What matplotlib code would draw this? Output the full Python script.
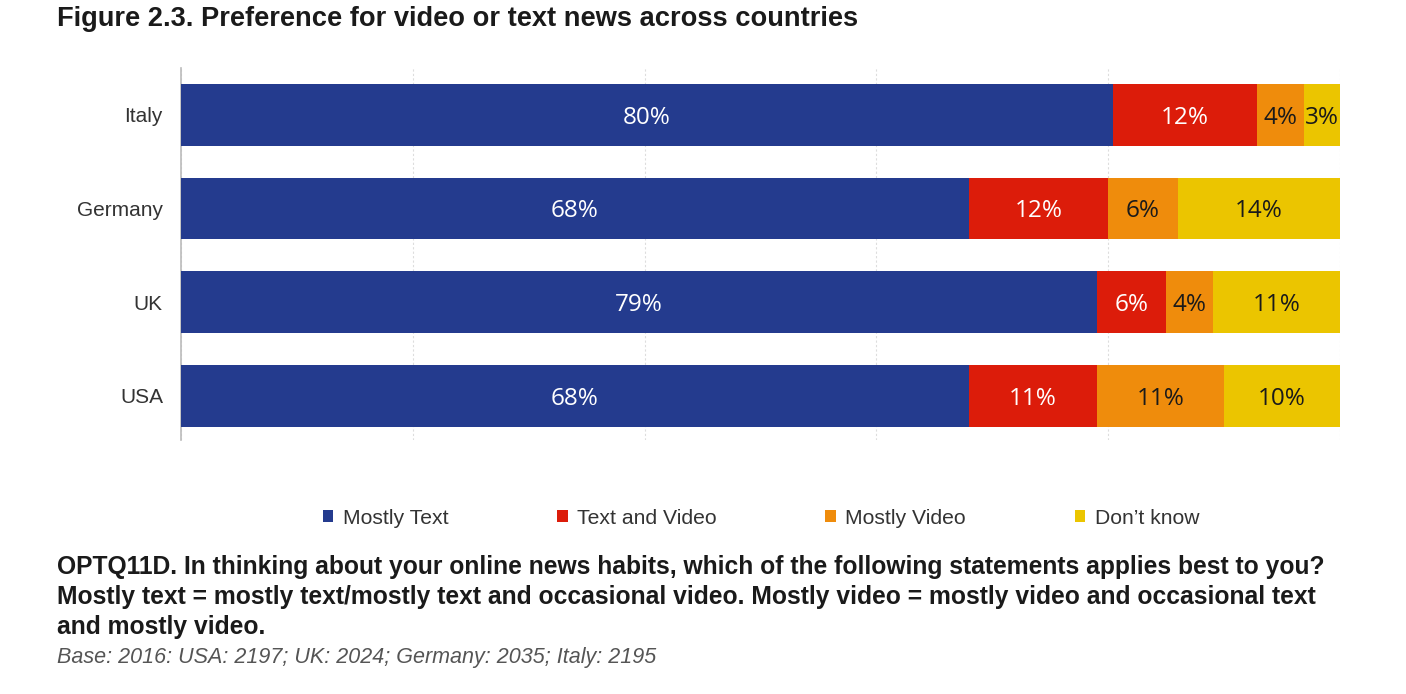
import matplotlib
matplotlib.use("Agg")
import matplotlib.pyplot as plt
from matplotlib.patches import Patch

# data (top to bottom)
countries = ["Italy", "Germany", "UK", "USA"]
series = ["Mostly Text", "Text and Video", "Mostly Video", "Don\u2019t know"]
mostly_text = [80.4, 68, 79, 68]
text_and_video = [12.4, 12, 6, 11]
mostly_video = [4.1, 6, 4, 11]
dont_know = [3.1, 14, 11, 10]

colors = ["#243b8e", "#dc1c0a", "#ef8c0c", "#ebc500"]
label_colors = ["white", "white", "#1a1a1a", "#1a1a1a"]

plt.rcParams["font.family"] = ["Liberation Sans", "DejaVu Sans"]

fig = plt.figure(figsize=(14.06, 6.94), dpi=100)
ax = fig.add_axes([181 / 1406, 1 - 440 / 694, 1159 / 1406, 372 / 694])

ypos = list(range(len(countries)))
left = [0.0] * len(countries)
for name, vals, col, lcol in zip(series,
                                 [mostly_text, text_and_video, mostly_video, dont_know],
                                 colors, label_colors):
    bars = ax.barh(ypos, vals, left=left, height=0.66, color=col, label=name,
                   zorder=3)
    for b, v in zip(bars, vals):
        ax.text(b.get_x() + b.get_width() / 2, b.get_y() + b.get_height() / 2 + 0.03,
                f"{round(v)}%", ha="center", va="center", fontsize=17.5,
                color=lcol, family="Open Sans", zorder=4)
    left = [l + v for l, v in zip(left, vals)]

ax.set_xlim(0, 100)
ax.set_ylim(3.47, -0.5)
ax.set_yticks(ypos)
ax.set_yticklabels(countries, fontsize=15, color="#333333")
ax.tick_params(axis="y", length=0, pad=13)
ax.set_xticks([0, 20, 40, 60, 80, 100])
ax.tick_params(axis="x", length=0, labelbottom=False)
ax.xaxis.grid(True, color="#dddddd", linestyle=(0, (2, 2)), linewidth=0.8, zorder=0)
for s in ["top", "right", "bottom"]:
    ax.spines[s].set_visible(False)
ax.spines["left"].set_color("#bbbbbb")
ax.spines["left"].set_linewidth(1.2)

# legend
handles = [Patch(facecolor=c, edgecolor="none") for c in colors]
fig.legend(handles, series, loc="center", bbox_to_anchor=(761 / 1406, 1 - 518 / 694),
           ncol=4, frameon=False, fontsize=15.2, handlelength=0.5, handleheight=0.5,
           handletextpad=0.45, columnspacing=5.15, labelcolor="#333333")

# title and notes
fig.text(57 / 1406, 1 - 19 / 694, "Figure 2.3. Preference for video or text news across countries",
         fontsize=19.6, fontweight="bold", color="#1a1a1a", va="center")
notes = ["OPTQ11D. In thinking about your online news habits, which of the following statements applies best to you?",
         "Mostly text = mostly text/mostly text and occasional video. Mostly video = mostly video and occasional text",
         "and mostly video."]
for i, line in enumerate(notes):
    fig.text(57 / 1406, 1 - (567 + 30 * i) / 694, line, fontsize=17.75, fontweight="bold",
             color="#1a1a1a", va="center")
fig.text(57 / 1406, 1 - 658 / 694, "Base: 2016: USA: 2197; UK: 2024; Germany: 2035; Italy: 2195",
         fontsize=15.5, style="italic", color="#555555", va="center")

fig.savefig("out.png", dpi=100, facecolor="white")
